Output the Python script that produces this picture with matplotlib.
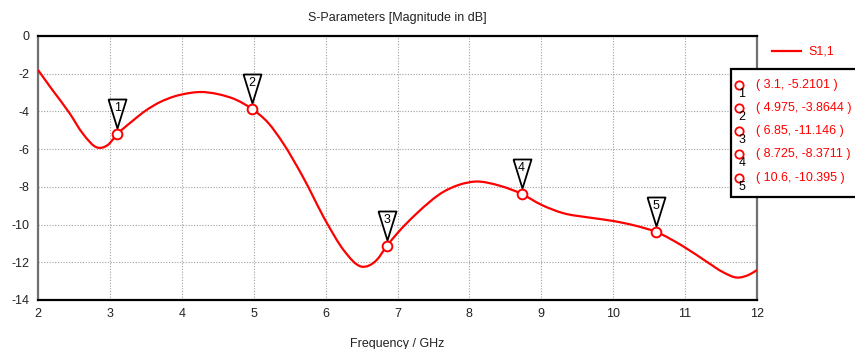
import matplotlib
matplotlib.use("Agg")
import matplotlib.pyplot as plt
from matplotlib.patches import Rectangle, PathPatch
from matplotlib.path import Path

plt.rcParams['font.family'] = ['Liberation Sans', 'DejaVu Sans']
plt.rcParams['axes.unicode_minus'] = False

freq = [2.0, 2.2, 2.44, 2.62, 2.83, 2.97, 3.1, 3.3, 3.5, 3.7, 3.9, 4.1, 4.25, 4.5,
        4.76, 4.975, 5.2, 5.41, 5.67, 6.02, 6.25, 6.5, 6.71, 6.85, 7.0, 7.27, 7.64,
        7.85, 8.08, 8.43, 8.725, 9.0, 9.31, 9.65, 10.0, 10.3, 10.6, 10.98, 11.3,
        11.53, 11.72, 11.9, 12.0]
s11 = [-1.80, -2.86, -4.10, -5.16, -5.92, -5.78, -5.2101, -4.55, -3.95, -3.5, -3.2,
       -3.03, -2.97, -3.08, -3.39, -3.8644, -4.6, -5.69, -7.37, -9.93, -11.35, -12.23,
       -11.88, -11.146, -10.45, -9.40, -8.26, -7.9, -7.72, -7.95, -8.3711, -8.95,
       -9.40, -9.62, -9.81, -10.05, -10.395, -11.17, -11.97, -12.53, -12.81, -12.64,
       -12.41]

marker_ids = ['1', '2', '3', '4', '5']
marker_f = [3.1, 4.975, 6.85, 8.725, 10.6]
marker_v = [-5.2101, -3.8644, -11.146, -8.3711, -10.395]
marker_labels = ['( 3.1, -5.2101 )', '( 4.975, -3.8644 )', '( 6.85, -11.146 )',
                 '( 8.725, -8.3711 )', '( 10.6, -10.395 )']

xticks = list(range(2, 13))
yticks = list(range(-14, 1, 2))

W, H = 855, 349
fig = plt.figure(figsize=(W / 100, H / 100), dpi=100)
ax = fig.add_axes([38 / W, 1 - 300 / H, (757 - 38) / W, (300 - 36) / H])

# smooth rendering of the read points with cubic Bezier segments (Hermite slopes)
n = len(freq)
slopes = []
for i in range(n):
    if i == 0:
        slopes.append((s11[1] - s11[0]) / (freq[1] - freq[0]))
    elif i == n - 1:
        slopes.append((s11[-1] - s11[-2]) / (freq[-1] - freq[-2]))
    else:
        h0 = freq[i] - freq[i - 1]
        h1 = freq[i + 1] - freq[i]
        d0 = (s11[i] - s11[i - 1]) / h0
        d1 = (s11[i + 1] - s11[i]) / h1
        slopes.append((d0 * h1 + d1 * h0) / (h0 + h1))
verts = [(freq[0], s11[0])]
codes = [Path.MOVETO]
for i in range(n - 1):
    h = freq[i + 1] - freq[i]
    verts += [(freq[i] + h / 3, s11[i] + slopes[i] * h / 3),
              (freq[i + 1] - h / 3, s11[i + 1] - slopes[i + 1] * h / 3),
              (freq[i + 1], s11[i + 1])]
    codes += [Path.CURVE4] * 3
ax.add_patch(PathPatch(Path(verts, codes), facecolor='none', edgecolor='#ff0000',
                       lw=1.6, zorder=3))

ax.set_xlim(2, 12)
ax.set_ylim(-14, 0)
ax.set_xticks(xticks)
ax.set_yticks(yticks)
ax.tick_params(length=0, labelsize=9, pad=6, colors='#222222')
ax.grid(True, color='#a0a0a0', linestyle=(0, (1, 1.5)), lw=0.8)

for side in ['top', 'bottom']:
    ax.spines[side].set_color('black')
    ax.spines[side].set_linewidth(1.6)
for side in ['left', 'right']:
    ax.spines[side].set_color('#707070')
    ax.spines[side].set_linewidth(1.6)

tri = [(-9, 35), (9, 35), (0, 6), (-9, 35)]
for mid, f, v in zip(marker_ids, marker_f, marker_v):
    ax.plot([f], [v], marker=tri, markersize=70 * 72 / 100, markerfacecolor='white',
            markeredgecolor='black', markeredgewidth=1.3, ls='none', zorder=4)
    ax.plot([f], [v], marker='o', markersize=7, markerfacecolor='white',
            markeredgecolor='#ff0000', markeredgewidth=1.4, ls='none', zorder=5)
    ax.annotate(mid, (f, v), xytext=(0, 20), textcoords='offset pixels',
                ha='center', va='bottom', fontsize=9, color='black', zorder=6)

fig.text(397 / W, 1 - 18 / H, 'S-Parameters [Magnitude in dB]', ha='center',
         va='center', fontsize=9, color='#222222')
fig.text(397 / W, 1 - 344 / H, 'Frequency / GHz', ha='center', va='center',
         fontsize=9, color='#222222')

fig.add_artist(plt.Line2D([772 / W, 801 / W], [1 - 51 / H, 1 - 51 / H],
                          color='#ff0000', lw=1.6))
fig.text(808 / W, 1 - 51 / H, 'S1,1', ha='left', va='center', fontsize=9,
         color='#ff0000')

fig.add_artist(Rectangle((731 / W, 1 - 197 / H), 130 / W, 128 / H,
                         transform=fig.transFigure, facecolor='white',
                         edgecolor='black', lw=1.6, zorder=10))
rows_y = [85, 108, 131, 154, 178]
for ry, mid, lab in zip(rows_y, marker_ids, marker_labels):
    fig.add_artist(plt.Line2D([739 / W], [1 - ry / H], marker='o', markersize=6,
                              markerfacecolor='white', markeredgecolor='#ff0000',
                              markeredgewidth=1.3, zorder=11))
    fig.text(742 / W, 1 - (ry + 9) / H, mid, ha='center', va='center', fontsize=9,
             color='black', zorder=12)
    fig.text(756 / W, 1 - ry / H, lab, ha='left', va='center', fontsize=9,
             color='#ff0000', zorder=12)

fig.savefig('out.png', dpi=100)
